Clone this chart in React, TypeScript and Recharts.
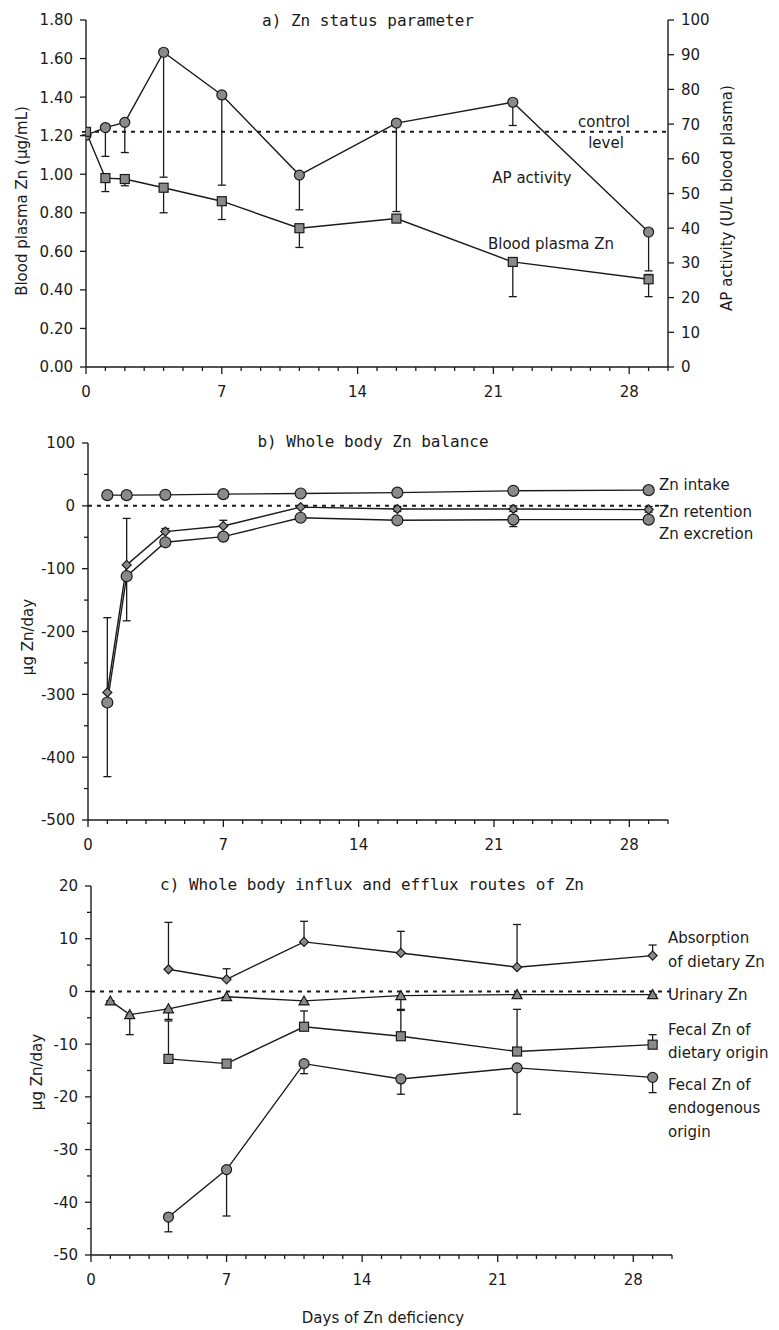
import React from 'react';
import { LineChart, Line, XAxis, YAxis, ErrorBar, ReferenceLine } from 'recharts';

// ---- shared axis ticks ----
const DAY_TICKS = Array.from({ length: 31 }, (_, i) => i);
const DAY_LABELS = [0, 7, 14, 21, 28];

// ---- a) Zn status parameter ----
const DAYS_A = [0, 1, 2, 4, 7, 11, 16, 22, 29];
const PLASMA_ZN = [1.22, 0.98, 0.975, 0.93, 0.86, 0.72, 0.77, 0.545, 0.455];
const PLASMA_ZN_LOW = [0, 0.07, 0.035, 0.13, 0.095, 0.1, 0.02, 0.18, 0.09];
const PLASMA_ZN_HIGH = [0, 0, 0, 0, 0, 0, 0, 0, 0.025];
const AP_ACTIVITY = [66.8, 69, 70.5, 90.7, 78.4, 55.3, 70.3, 76.3, 38.9];
const AP_ACTIVITY_LOW = [0, 8.3, 8.7, 36, 26, 10, 25.5, 6.7, 11.2];
const CONTROL_LEVEL = 1.22;
const PLASMA_TICKS = [0, 0.2, 0.4, 0.6, 0.8, 1.0, 1.2, 1.4, 1.6, 1.8];
const AP_TICKS = [0, 10, 20, 30, 40, 50, 60, 70, 80, 90, 100];

// ---- b) Whole body Zn balance ----
const DAYS_B = [1, 2, 4, 7, 11, 16, 22, 29];
const ZN_INTAKE = [17, 17, 17.5, 18.6, 19.6, 21, 23.9, 25];
const ZN_RETENTION = [-297, -94, -41, -32, -2, -5, -5, -6];
const ZN_RETENTION_LOW = [0, 0, 0, 0, 0, 4, 4, 4];
const ZN_RETENTION_HIGH = [119, 74, 5, 9, 0, 4, 5, 5];
const ZN_EXCRETION = [-313, -112, -58, -49, -19, -23, -22, -22];
const ZN_EXCRETION_LOW = [118, 71, 0, 5, 0, 0, 11, 0];
const BALANCE_TICKS = [100, 50, 0, -50, -100, -150, -200, -250, -300, -350, -400, -450, -500];

// ---- c) Whole body influx and efflux routes of Zn ----
const DAYS_C = [4, 7, 11, 16, 22, 29];
const ABSORPTION = [4.2, 2.3, 9.4, 7.3, 4.6, 6.8];
const ABSORPTION_HIGH = [8.9, 2.0, 3.9, 4.1, 8.1, 2.0];
const DAYS_URINARY = [1, 2, 4, 7, 11, 16, 22, 29];
const URINARY = [-1.8, -4.4, -3.3, -1.0, -1.8, -0.8, -0.6, -0.6];
const URINARY_LOW = [0, 3.8, 2.0, 0, 0, 2.6, 0, 0];
const FECAL_DIETARY = [-12.8, -13.7, -6.7, -8.5, -11.4, -10.1];
const FECAL_DIETARY_HIGH = [7.2, 0, 3.0, 4.9, 8.0, 1.9];
const FECAL_ENDOGENOUS = [-42.8, -33.8, -13.7, -16.6, -14.5, -16.3];
const FECAL_ENDOGENOUS_LOW = [2.8, 8.8, 1.9, 2.9, 8.8, 2.9];
const ROUTE_TICKS = [20, 15, 10, 5, 0, -5, -10, -15, -20, -25, -30, -35, -40, -45, -50];

const INK = '#1a1a1a';
const MARKER_FILL = '#8a8a8a';
const TICK_FONT = 'DejaVu Sans, Verdana, sans-serif';
const TITLE_FONT = '"DejaVu Sans Mono", monospace';

type Shape = 'circle' | 'square' | 'diamond' | 'triangle';

const toPoints = (days: number[], values: number[], low?: number[], high?: number[]) =>
  days.map((day, i) => ({
    day,
    value: values[i],
    err: [low ? low[i] : 0, high ? high[i] : 0],
  }));

function Marker({ shape, cx, cy, size }: { shape: Shape; cx: number; cy: number; size: number }) {
  const h = size / 2;
  const common = { fill: MARKER_FILL, stroke: INK, strokeWidth: 1.2 };
  if (shape === 'square') return <rect x={cx - h} y={cy - h} width={size} height={size} {...common} />;
  if (shape === 'diamond')
    return <polygon points={`${cx},${cy - h} ${cx + h},${cy} ${cx},${cy + h} ${cx - h},${cy}`} {...common} />;
  if (shape === 'triangle')
    return <polygon points={`${cx},${cy - h} ${cx + h},${cy + h * 0.8} ${cx - h},${cy + h * 0.8}`} {...common} />;
  return <circle cx={cx} cy={cy} r={h} {...common} />;
}

const markerDot = (shape: Shape, size: number) => (p: any) => {
  const { cx, cy, index } = p;
  if (cx == null || cy == null) return <g key={`e-${index}`} />;
  return <Marker key={`m-${index}`} shape={shape} cx={cx} cy={cy} size={size} />;
};

// x ticks: a tick line every day, labels every week
const DayTick = (props: any) => {
  const { x, y, payload } = props;
  const major = DAY_LABELS.includes(payload.value);
  return (
    <g>
      <line x1={x} x2={x} y1={y} y2={y + (major ? 7 : 4)} stroke={INK} strokeWidth={1.3} />
      {major && (
        <text x={x} y={y + 30} textAnchor="middle" fontSize={15} fontFamily={TICK_FONT} fill={INK}>
          {payload.value}
        </text>
      )}
    </g>
  );
};

const sideTick = (side: 'left' | 'right', labelled: (v: number) => boolean, fmt: (v: number) => string) => (props: any) => {
  const { x, y, payload } = props;
  const v = payload.value;
  const dir = side === 'left' ? -1 : 1;
  const show = labelled(v);
  return (
    <g>
      <line x1={x} x2={x + dir * (show ? 6 : 4)} y1={y} y2={y} stroke={INK} strokeWidth={1.3} />
      {show && (
        <text
          x={x + dir * 13}
          y={y}
          dy="0.36em"
          textAnchor={side === 'left' ? 'end' : 'start'}
          fontSize={15}
          fontFamily={TICK_FONT}
          fill={INK}
        >
          {fmt(v)}
        </text>
      )}
    </g>
  );
};

const axisLine = { stroke: INK, strokeWidth: 1.4 };
const lineProps = { type: 'linear' as const, stroke: INK, strokeWidth: 1.4, isAnimationActive: false, activeDot: false };

const XDays = ({ height }: { height: number }) => (
  <XAxis
    type="number"
    dataKey="day"
    domain={[0, 30]}
    ticks={DAY_TICKS}
    interval={0}
    tick={DayTick}
    tickLine={false}
    tickSize={0}
    tickMargin={0}
    height={height}
    axisLine={axisLine}
    allowDataOverflow
  />
);

const Txt = ({ x, y, children, rotate, size = 15, font = TICK_FONT, align = 'center' }: any) => (
  <div
    style={{
      position: 'absolute',
      left: x,
      top: y,
      transform: `translate(${align === 'left' ? '0' : '-50%'}, -50%)${rotate ? ' rotate(-90deg)' : ''}`,
      fontFamily: font,
      fontSize: size,
      lineHeight: 1,
      color: INK,
      whiteSpace: 'nowrap',
    }}
  >
    {children}
  </div>
);

const errBar = <ErrorBar dataKey="err" direction="y" width={4} stroke={INK} strokeWidth={1.3} />;

export default function App() {
  return (
    <div style={{ position: 'absolute', left: 0, top: 0, width: 779, height: 1330, background: '#fff' }}>
      {/* a) */}
      <div style={{ position: 'absolute', left: 0, top: 0 }}>
        <LineChart width={779} height={400} margin={{ top: 20, right: 0, bottom: 3, left: 0 }}>
          {XDays({ height: 30 })}
          <YAxis
            yAxisId="zn"
            width={86}
            domain={[0, 1.8]}
            ticks={PLASMA_TICKS}
            interval={0}
            tick={sideTick('left', () => true, (v) => v.toFixed(2))}
            tickLine={false}
            tickSize={0}
            tickMargin={0}
            axisLine={axisLine}
          />
          <YAxis
            yAxisId="ap"
            orientation="right"
            width={111}
            domain={[0, 100]}
            ticks={AP_TICKS}
            interval={0}
            tick={sideTick('right', () => true, (v) => String(v))}
            tickLine={false}
            tickSize={0}
            tickMargin={0}
            axisLine={axisLine}
          />
          <ReferenceLine yAxisId="zn" y={CONTROL_LEVEL} stroke={INK} strokeWidth={2} strokeDasharray="4 5" />
          <Line {...lineProps} yAxisId="ap" data={toPoints(DAYS_A, AP_ACTIVITY, AP_ACTIVITY_LOW)} dataKey="value" dot={markerDot('circle', 10)}>
            {errBar}
          </Line>
          <Line
            {...lineProps}
            yAxisId="zn"
            data={toPoints(DAYS_A, PLASMA_ZN, PLASMA_ZN_LOW, PLASMA_ZN_HIGH)}
            dataKey="value"
            dot={markerDot('square', 9)}
          >
            {errBar}
          </Line>
        </LineChart>
      </div>

      {/* b) */}
      <div style={{ position: 'absolute', left: 0, top: 400 }}>
        <LineChart width={779} height={460} margin={{ top: 43, right: 111, bottom: 12, left: 0 }}>
          {XDays({ height: 28 })}
          <YAxis
            width={88}
            domain={[-500, 100]}
            ticks={BALANCE_TICKS}
            interval={0}
            tick={sideTick('left', (v) => v % 100 === 0, (v) => String(v))}
            tickLine={false}
            tickSize={0}
            tickMargin={0}
            axisLine={axisLine}
          />
          <ReferenceLine y={0} stroke={INK} strokeWidth={2} strokeDasharray="4 5" />
          <Line {...lineProps} data={toPoints(DAYS_B, ZN_INTAKE)} dataKey="value" dot={markerDot('circle', 11)} />
          <Line
            {...lineProps}
            data={toPoints(DAYS_B, ZN_RETENTION, ZN_RETENTION_LOW, ZN_RETENTION_HIGH)}
            dataKey="value"
            dot={markerDot('diamond', 9)}
          >
            {errBar}
          </Line>
          <Line
            {...lineProps}
            data={toPoints(DAYS_B, ZN_EXCRETION, ZN_EXCRETION_LOW)}
            dataKey="value"
            dot={markerDot('circle', 11)}
          >
            {errBar}
          </Line>
        </LineChart>
      </div>

      {/* c) */}
      <div style={{ position: 'absolute', left: 0, top: 860 }}>
        <LineChart width={779} height={470} margin={{ top: 26, right: 107, bottom: 45, left: 0 }}>
          {XDays({ height: 30 })}
          <YAxis
            width={91}
            domain={[-50, 20]}
            ticks={ROUTE_TICKS}
            interval={0}
            tick={sideTick('left', (v) => v % 10 === 0, (v) => String(v))}
            tickLine={false}
            tickSize={0}
            tickMargin={0}
            axisLine={axisLine}
          />
          <ReferenceLine y={0} stroke={INK} strokeWidth={2} strokeDasharray="4 5" />
          <Line {...lineProps} data={toPoints(DAYS_C, ABSORPTION, undefined, ABSORPTION_HIGH)} dataKey="value" dot={markerDot('diamond', 9)}>
            {errBar}
          </Line>
          <Line {...lineProps} data={toPoints(DAYS_URINARY, URINARY, URINARY_LOW)} dataKey="value" dot={markerDot('triangle', 10)}>
            {errBar}
          </Line>
          <Line {...lineProps} data={toPoints(DAYS_C, FECAL_DIETARY, undefined, FECAL_DIETARY_HIGH)} dataKey="value" dot={markerDot('square', 9)}>
            {errBar}
          </Line>
          <Line {...lineProps} data={toPoints(DAYS_C, FECAL_ENDOGENOUS, FECAL_ENDOGENOUS_LOW)} dataKey="value" dot={markerDot('circle', 10)}>
            {errBar}
          </Line>
        </LineChart>
      </div>

      {/* titles */}
      <Txt x={368} y={21} size={16} font={TITLE_FONT}>a) Zn status parameter</Txt>
      <Txt x={373} y={442} size={16} font={TITLE_FONT}>b) Whole body Zn balance</Txt>
      <Txt x={372} y={885} size={16} font={TITLE_FONT}>c) Whole body influx and efflux routes of Zn</Txt>

      {/* axis titles */}
      <Txt x={22} y={201} rotate>Blood plasma Zn (µg/mL)</Txt>
      <Txt x={727} y={198} rotate>AP activity (U/L blood plasma)</Txt>
      <Txt x={28} y={637} rotate>µg Zn/day</Txt>
      <Txt x={37} y={1072} rotate>µg Zn/day</Txt>
      <Txt x={383} y={1318}>Days of Zn deficiency</Txt>

      {/* panel a annotations */}
      <Txt x={604} y={122}>control</Txt>
      <Txt x={606} y={143}>level</Txt>
      <Txt x={532} y={178}>AP activity</Txt>
      <Txt x={551} y={244}>Blood plasma Zn</Txt>

      {/* panel b annotations */}
      <Txt x={659} y={485} align="left">Zn intake</Txt>
      <Txt x={659} y={512} align="left">Zn retention</Txt>
      <Txt x={659} y={534} align="left">Zn excretion</Txt>

      {/* panel c annotations */}
      <Txt x={668} y={938} align="left">Absorption</Txt>
      <Txt x={668} y={962} align="left">of dietary Zn</Txt>
      <Txt x={668} y={995} align="left">Urinary Zn</Txt>
      <Txt x={668} y={1030} align="left">Fecal Zn of</Txt>
      <Txt x={668} y={1053} align="left">dietary origin</Txt>
      <Txt x={668} y={1085} align="left">Fecal Zn of</Txt>
      <Txt x={668} y={1108} align="left">endogenous</Txt>
      <Txt x={668} y={1132} align="left">origin</Txt>
    </div>
  );
}
